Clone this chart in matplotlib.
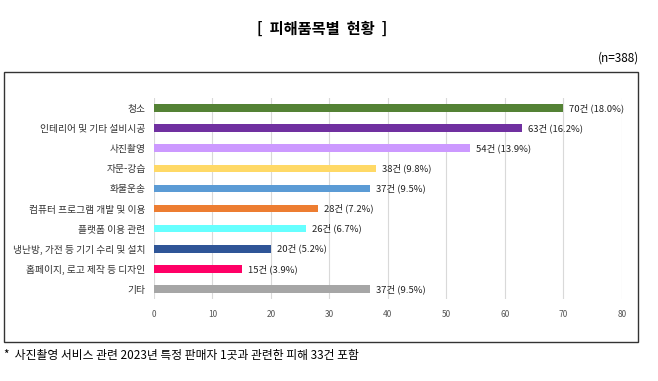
import matplotlib.pyplot as plt
from matplotlib.patches import Rectangle

plt.rcParams['font.family'] = ['Noto Sans CJK KR', 'DejaVu Sans']

categories = [
    "청소",
    "인테리어 및 기타 설비시공",
    "사진촬영",
    "자문-강습",
    "화물운송",
    "컴퓨터 프로그램 개발 및 이용",
    "플랫폼 이용 관련",
    "냉난방, 가전 등 기기 수리 및 설치",
    "홈페이지, 로고 제작 등 디자인",
    "기타",
]
counts = [70, 63, 54, 38, 37, 28, 26, 20, 15, 37]
shares = [18.0, 16.2, 13.9, 9.8, 9.5, 7.2, 6.7, 5.2, 3.9, 9.5]
colors = ["#548235", "#7030A0", "#CC99FF", "#FFD966", "#5B9BD5",
          "#ED7D31", "#66FFFF", "#2F5597", "#FF0066", "#A6A6A6"]
xticks = [0, 10, 20, 30, 40, 50, 60, 70, 80]

fig = plt.figure(figsize=(6.58, 3.81), dpi=100)

# outer frame
fig.patches.append(Rectangle((0.006, 0.102), 0.964, 0.709, transform=fig.transFigure,
                             fill=False, edgecolor="#333333", linewidth=1.0))

fig.text(0.49, 0.925, "[  피해품목별  현황  ]", ha="center", va="center",
         fontsize=11, fontweight="bold")
fig.text(0.972, 0.848, "(n=388)", ha="right", va="center", fontsize=8.5)
fig.text(0.006, 0.068, "*  사진촬영 서비스 관련 2023년 특정 판매자 1곳과 관련한 피해 33건 포함",
         ha="left", va="center", fontsize=8.5)

ax = fig.add_axes([0.234, 0.215, 0.711, 0.528])
y = list(range(len(categories)))
ax.barh(y, counts, height=0.38, color=colors, zorder=3)
for yi, c, s in zip(y, counts, shares):
    ax.text(c + 1.0, yi, f"{c}건 ({s}%)", va="center", ha="left",
            fontsize=6.8, color="#222222", fontweight="medium")

ax.set_xlim(0, 80)
ax.set_ylim(len(categories) - 0.5, -0.5)
ax.set_yticks(y)
ax.set_yticklabels(categories, fontsize=7, color="#333333")
ax.set_xticks(xticks)
ax.set_xticklabels([str(t) for t in xticks], fontsize=6, color="#555555")
ax.tick_params(length=0, pad=6)
ax.tick_params(axis="x", pad=8)
ax.grid(axis="x", color="#D9D9D9", linewidth=0.8, zorder=0)
for sp in ax.spines.values():
    sp.set_visible(False)

fig.savefig("out.png", dpi=100)
